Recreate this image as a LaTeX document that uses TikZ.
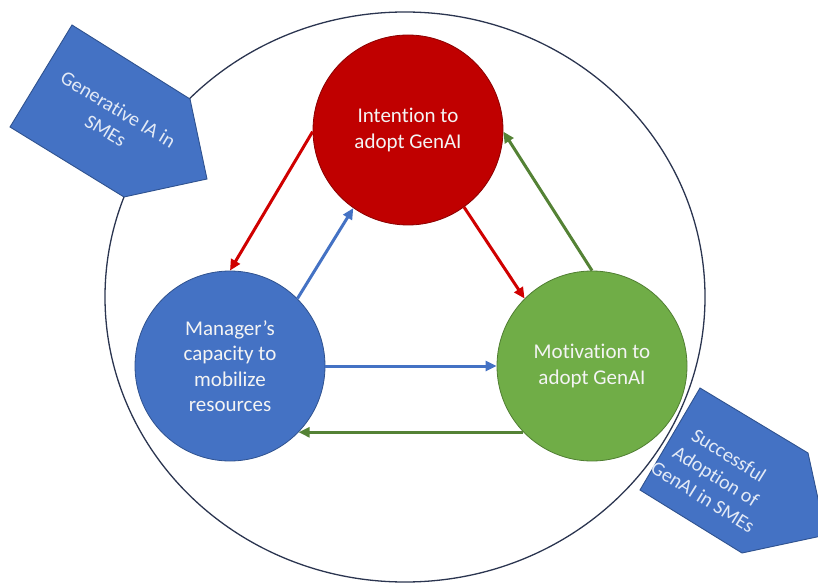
\documentclass[tikz,border=0pt]{standalone}
\usepackage{fontspec}
\setmainfont{Carlito}[Ligatures=NoCommon]
\usetikzlibrary{arrows.meta}
\definecolor{cred}{HTML}{C00000}
\definecolor{credline}{HTML}{8B0000}
\definecolor{cblue}{HTML}{4472C4}
\definecolor{cblueline}{HTML}{2F528F}
\definecolor{cgreen}{HTML}{70AD47}
\definecolor{cgreenline}{HTML}{507E32}
\definecolor{arrred}{HTML}{D00000}
\definecolor{arrblue}{HTML}{4472C4}
\definecolor{arrgreen}{HTML}{548235}
\definecolor{ringc}{HTML}{2B3550}
\definecolor{lighttext}{HTML}{E3EAF6}
\definecolor{circtext}{HTML}{F4F4F4}
\tikzset{
  bigcirc/.style={circle, minimum size=190pt, inner sep=0pt, line width=0.8pt,
    align=center, text=circtext, font=\fontsize{21}{25.5}\selectfont},
  conn/.style={line width=3pt, -{Triangle[length=11pt,width=10pt]}},
  plate/.style={fill=cblue, draw=cblueline, line width=0.9pt, line join=miter},
  platetext/.style={align=center, text=lighttext, font=\fontsize{20}{24.5}\selectfont, inner sep=0pt}
}
\begin{document}
\begin{tikzpicture}[x=1pt,y=-1pt]
\useasboundingbox (0,0) rectangle (818,585);
\clip (0,0) rectangle (818,585);
% outer ring
\draw[ringc, line width=1.3pt] (405,297) ellipse [x radius=300pt, y radius=285pt];
% pentagon arrows
\draw[plate] (72,25) -- (190,99) -- (207,179) -- (124,197) -- (10,127) -- cycle;
\node[platetext, rotate=-31] (gen) at (112,120) {Generative IA in\\SMEs};
\draw[plate] (700,388) -- (808,453) -- (826,535) -- (742,553) -- (640,490) -- cycle;
\node[platetext, rotate=-32] (succ) at (716,476) {Successful\\Adoption of\\GenAI in SMEs};
% circles
\node[bigcirc, fill=cred, draw=credline] (int) at (408,130) {Intention to\\adopt GenAI};
\node[bigcirc, fill=cblue, draw=cblueline] (man) at (230,366) {Manager’s\\capacity to\\mobilize\\resources};
\node[bigcirc, fill=cgreen, draw=cgreenline] (mot) at (592,366) {Motivation to\\adopt GenAI};
% connectors
\draw[conn, arrred] (int.181) -- (man.90);
\draw[conn, arrblue] (man.45) -- (int.235);
\draw[conn, arrred] (int.306) -- (mot.135);
\draw[conn, arrgreen] (mot.90) -- (int.359);
\draw[conn, arrblue] (man.0) -- (mot.180);
\draw[conn, arrgreen] (mot.224) -- (man.316);
\end{tikzpicture}
\end{document}
